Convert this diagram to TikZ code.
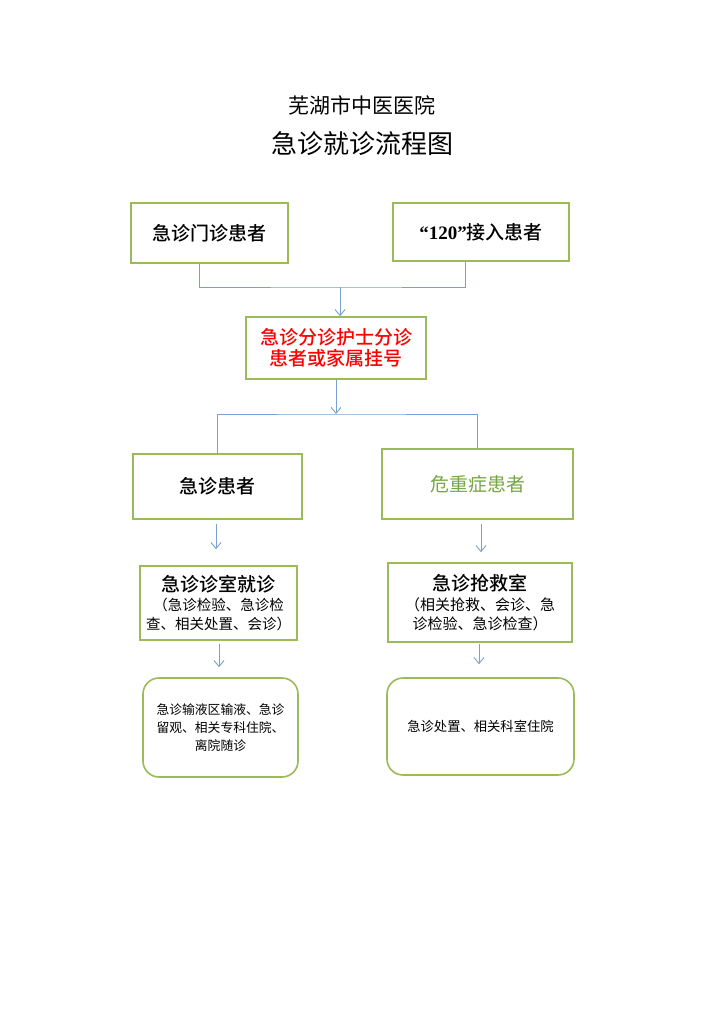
\documentclass[tikz,border=0pt]{standalone}
\usepackage{fontspec}
\setmainfont{Noto Sans CJK SC}[BoldFont={Noto Sans CJK SC Medium}]
\newfontfamily\tnr{Liberation Serif}
\usetikzlibrary{arrows.meta,positioning}
\definecolor{boxgreen}{RGB}{155,187,89}
\definecolor{linkblue}{RGB}{120,160,210}
\definecolor{textgreen}{RGB}{118,166,70}
\tikzset{
  box/.style={draw=boxgreen, line width=1.6pt, inner sep=0pt, align=center},
  rbox/.style={box, rounded corners=16pt},
  link/.style={draw=linkblue, line width=0.9pt},
  arr/.style={link, -{Straight Barb[length=6pt,width=10pt,line width=0.9pt]}},
  bigt/.style={font=\fontsize{19}{21}\selectfont\bfseries},
}
\begin{document}
\begin{tikzpicture}[x=1pt,y=-1pt]
\useasboundingbox (0,0) rectangle (724,1024);
\fill[white] (0,0) rectangle (724,1024);
% titles
\node (t1) at (362,105) {\fontsize{21}{24}\selectfont 芜湖市中医医院};
\node (t2) at (362,144) {\fontsize{26}{30}\selectfont 急诊就诊流程图};
% boxes
\node[box, minimum width=157pt, minimum height=60pt, bigt] (A) at (209.5,233) {急诊门诊患者};
\node[box, minimum width=176pt, minimum height=58pt, bigt] (B) at (481,232) {{\tnr\bfseries “120”}接入患者};
\node[box, minimum width=180pt, minimum height=62pt, text=red, font=\fontsize{19}{20.5}\selectfont\bfseries] (C) at (336,348) {急诊分诊护士分诊\\患者或家属挂号};
\node[box, minimum width=169pt, minimum height=65pt, bigt] (D) at (217.5,486.5) {急诊患者};
\node[box, minimum width=191pt, minimum height=70pt, text=textgreen, font=\fontsize{19}{21}\selectfont] (E) at (477.5,484) {危重症患者};
\node[box, minimum width=157pt, minimum height=74pt, font=\fontsize{14.5}{18.5}\selectfont] (F) at (218.5,603) {{\fontsize{19}{21}\selectfont\bfseries 急诊诊室就诊}\\[1pt]（急诊检验、急诊检\\查、相关处置、会诊）};
\node[box, minimum width=184pt, minimum height=79pt, font=\fontsize{15}{19}\selectfont] (G) at (480,602.5) {{\fontsize{19}{21}\selectfont\bfseries 急诊抢救室}\\[1pt]（相关抢救、会诊、急\\诊检验、急诊检查）};
\node[rbox, minimum width=155pt, minimum height=99pt, font=\fontsize{12.8}{18}\selectfont] (H) at (220.5,727.5) {急诊输液区输液、急诊\\留观、相关专科住院、\\离院随诊};
\node[rbox, minimum width=187pt, minimum height=97pt, font=\fontsize{13.3}{18}\selectfont] (I) at (480.5,726.5) {急诊处置、相关科室住院};
% connectors top
\coordinate (j1) at (340,287);
\draw[link] ([xshift=-10.5pt]A.south) |- (j1) -| ([xshift=-16pt]B.south);
\draw[arr] (j1) -- (j1 |- C.north);
% split
\coordinate (j2) at (336,414);
\draw[arr] (C.south) -- (j2);
\draw[link] (D.north) |- (j2) -| (E.north);
% lower arrows
\draw[arr] ([xshift=-1.5pt,yshift=-4pt]D.south) -- ([xshift=-2.5pt,yshift=16pt]F.north);
\draw[arr] ([xshift=3.5pt,yshift=-4pt]E.south) -- ([xshift=1pt,yshift=10pt]G.north);
\draw[arr] ([xshift=0.5pt,yshift=-3pt]F.south) -- ([xshift=-1.5pt,yshift=10pt]H.north);
\draw[arr] ([xshift=-1pt,yshift=-1pt]G.south) -- ([xshift=-1.5pt,yshift=13pt]I.north);
\end{tikzpicture}
\end{document}
